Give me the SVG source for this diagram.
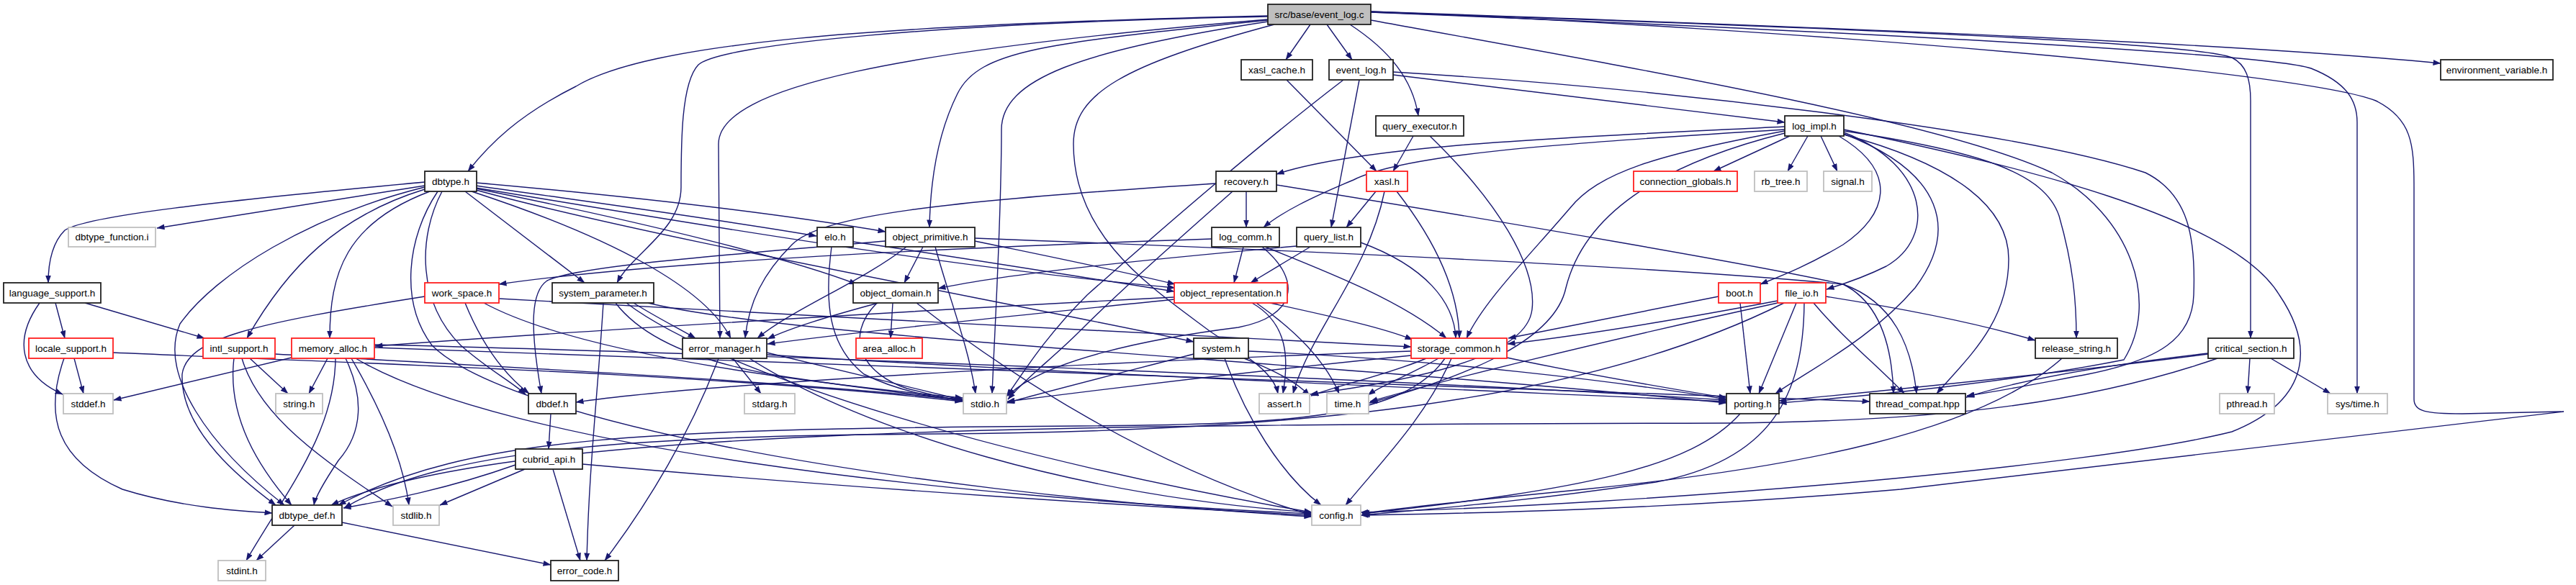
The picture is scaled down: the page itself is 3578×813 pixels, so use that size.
<svg xmlns="http://www.w3.org/2000/svg" width="3578" height="813" viewBox="0 0 3578 813">
<style>
text{font-family:"Liberation Sans",Arial,sans-serif;font-size:13.5px;text-anchor:middle;fill:#000}
.k{fill:#fff;stroke:#222;stroke-width:1.8}
.g{fill:#fff;stroke:#bfbfbf;stroke-width:1.8}
.r{fill:#fff;stroke:#ff2020;stroke-width:1.8}
#edges path{fill:none;stroke:#191970;stroke-width:1.4;marker-end:url(#a)}
</style>
<defs>
<marker id="a" markerWidth="11" markerHeight="8" refX="10.5" refY="4" orient="auto" markerUnits="userSpaceOnUse"><path d="M0,0 L11,4 L0,8 z" fill="#191970" stroke="none"/></marker>
</defs>
<rect width="3578" height="813" fill="#fff"/>
<g id="edges">
<path d="M1761,22 C1200,35 900,60 800,120 C720,160 680,200 650,238"/>
<path d="M1820,34 L1786,83"/>
<path d="M1843,34 L1878,83"/>
<path d="M1875,34 C1930,70 1962,110 1970,161"/>
<path d="M1761,28 C1450,60 1360,70 1330,130 C1300,190 1292,260 1291,316"/>
<path d="M1761,23 C1300,32 1000,62 970,90 C946,115 946,200 946,260 C946,320 880,350 857,393"/>
<path d="M1761,27 C1250,70 998,120 998,200 C998,300 1000,400 1000,470"/>
<path d="M1761,30 C1500,70 1391,110 1391,180 C1391,300 1382,450 1378,547"/>
<path d="M1770,34 C1560,90 1491,130 1491,200 C1491,330 1600,400 1680,460 C1740,500 1770,520 1775,547"/>
<path d="M1904,28 C2300,100 2700,170 2850,240 C2960,300 3000,420 2950,500 C2800,530 2600,550 2471,560"/>
<path d="M1904,16 C2500,40 3200,100 3300,140 C3350,165 3353,200 3353,260 L3353,555 C3353,572 3370,575 3420,575 L3561,572 L2640,680 C2300,710 2000,714 1890,716"/>
<path d="M1904,16 C2600,40 3100,60 3390,88"/>
<path d="M1904,17 C2600,40 3050,60 3100,80 C3120,90 3126,110 3126,140 L3126,470"/>
<path d="M1904,17 C2600,45 3150,75 3210,95 C3260,115 3274,140 3274,170 L3274,547"/>
<path d="M1888,111 L1849,316"/>
<path d="M1866,111 C1750,200 1600,330 1510,410 C1450,470 1420,520 1398,551"/>
<path d="M1935,104 L2479,170"/>
<path d="M1935,100 C2300,122 2800,180 2980,240 C3040,270 3050,330 3047,410 C3045,470 3000,500 2900,520 C2820,535 2770,545 2732,550"/>
<path d="M1787,111 L1912,238"/>
<path d="M1963,189 L1935,238"/>
<path d="M1986,189 C2080,280 2135,370 2128,430 C2120,500 1950,530 1820,548"/>
<path d="M2479,176 C2200,190 1900,200 1773,242"/>
<path d="M2479,180 C2150,200 1950,215 1880,250 C1820,275 1780,295 1755,316"/>
<path d="M2479,182 C2300,215 2220,240 2180,290 C2120,360 2060,420 2037,470"/>
<path d="M2479,185 C2300,230 2200,300 2175,400 C2160,470 2050,520 1902,560"/>
<path d="M2486,189 L2380,238"/>
<path d="M2511,189 L2483,238"/>
<path d="M2529,189 L2552,238"/>
<path d="M2554,189 C2640,240 2620,300 2560,340 C2510,370 2470,385 2445,395"/>
<path d="M2561,184 C2680,230 2690,330 2620,370 C2590,385 2560,395 2537,402"/>
<path d="M2561,186 C2700,240 2720,320 2660,400 C2600,470 2520,510 2466,547"/>
<path d="M2561,187 C2720,230 2790,290 2790,360 C2790,450 2730,500 2690,547"/>
<path d="M2561,182 C2750,210 2840,240 2860,300 C2880,370 2884,420 2884,470"/>
<path d="M2561,180 C2800,230 3100,300 3166,410 C3220,490 3200,560 3100,600 C2900,650 2300,700 1890,712"/>
<path d="M1731,266 L1731,316"/>
<path d="M1689,255 C1300,280 1140,300 1100,340 C1060,380 1040,420 1035,470"/>
<path d="M1712,266 C1640,330 1560,400 1500,460 C1460,500 1425,525 1400,555"/>
<path d="M1773,257 C2100,310 2450,370 2560,395 C2630,420 2655,480 2662,547"/>
<path d="M1911,266 L1870,316"/>
<path d="M1940,266 C1990,330 2026,400 2027,470"/>
<path d="M1923,266 C1900,380 1820,460 1796,547"/>
<path d="M1820,343 L1737,393"/>
<path d="M1890,337 C1980,370 2020,420 2022,470"/>
<path d="M1801,342 C1600,360 1400,380 1303,401"/>
<path d="M1727,343 L1714,393"/>
<path d="M1757,343 C1850,380 1950,420 2009,470"/>
<path d="M1683,332 C1300,345 900,365 693,395"/>
<path d="M1753,343 C1810,390 1800,440 1720,455 C1600,470 1450,500 1400,550"/>
<path d="M1764,421 C1850,440 1920,455 1962,472"/>
<path d="M1739,421 C1790,450 1790,500 1782,547"/>
<path d="M1745,421 C1800,460 1840,500 1860,547"/>
<path d="M1631,413 C1300,430 800,460 521,481"/>
<path d="M1631,416 C1400,440 1200,460 1066,478"/>
<path d="M1282,343 L1256,393"/>
<path d="M1259,343 C1200,390 1100,430 1052,470"/>
<path d="M1299,343 C1320,420 1345,480 1355,547"/>
<path d="M1354,335 C1450,355 1550,375 1632,395"/>
<path d="M1354,331 C1800,348 2300,370 2560,395 C2610,420 2628,480 2630,547"/>
<path d="M1230,335 C1000,355 800,370 760,390 C738,405 735,450 752,547"/>
<path d="M1185,336 C1350,360 1500,385 1631,405"/>
<path d="M1155,343 C1145,420 1150,480 1200,520 C1250,545 1300,552 1337,557"/>
<path d="M1240,421 L1237,470"/>
<path d="M1220,421 C1150,440 1100,455 1066,471"/>
<path d="M1218,421 C1170,470 1200,520 1260,540 C1300,550 1320,555 1338,557"/>
<path d="M1273,421 C1400,520 1600,650 1822,716"/>
<path d="M880,421 C910,440 940,455 966,470"/>
<path d="M838,421 C830,550 818,650 815,779"/>
<path d="M855,421 C900,480 1000,510 1100,525 C1200,540 1300,552 1337,555"/>
<path d="M870,421 C1000,520 1400,640 1822,712"/>
<path d="M900,421 C1100,470 1800,500 2398,560"/>
<path d="M590,412 C350,450 260,470 253,520 C250,600 340,670 383,702"/>
<path d="M646,421 C670,480 700,520 735,547"/>
<path d="M672,421 C800,490 1100,530 1337,553"/>
<path d="M693,415 C1100,440 1600,460 1960,482"/>
<path d="M77,421 L90,470"/>
<path d="M118,421 L284,470"/>
<path d="M55,421 C20,470 25,520 87,548"/>
<path d="M103,498 L116,547"/>
<path d="M89,498 C60,580 80,640 170,680 C250,705 330,710 378,713"/>
<path d="M157,490 C500,505 1000,520 1337,558"/>
<path d="M347,498 L400,547"/>
<path d="M325,498 C315,580 360,650 405,702"/>
<path d="M336,498 C360,580 450,640 545,704"/>
<path d="M382,492 C700,510 1100,530 1337,556"/>
<path d="M455,498 L429,547"/>
<path d="M405,497 L158,556"/>
<path d="M480,498 C505,550 505,600 470,640 C450,670 438,690 436,702"/>
<path d="M466,498 C465,600 400,680 342,779"/>
<path d="M488,498 C530,570 560,640 568,702"/>
<path d="M494,498 C700,620 1300,690 1822,714"/>
<path d="M520,479 C1000,490 2000,530 2398,556"/>
<path d="M520,483 C1200,510 2200,540 2597,558"/>
<path d="M590,258 L218,317"/>
<path d="M590,253 C300,280 120,300 90,320 C70,340 67,370 67,393"/>
<path d="M590,263 C470,300 400,370 343,470"/>
<path d="M590,260 C430,300 300,380 250,450 C220,520 290,620 395,702"/>
<path d="M597,266 C480,310 458,380 458,470"/>
<path d="M614,266 C580,330 580,420 640,480 C680,515 710,530 730,548"/>
<path d="M608,266 C565,330 555,420 600,480 C700,580 1200,680 1822,718"/>
<path d="M646,266 L812,393"/>
<path d="M661,254 C900,275 1100,300 1230,322"/>
<path d="M661,258 C850,285 1000,305 1134,328"/>
<path d="M661,262 C900,310 1100,360 1190,395"/>
<path d="M661,264 C900,330 1400,420 1658,475"/>
<path d="M661,261 C900,300 1300,370 1632,400"/>
<path d="M655,266 C850,330 980,400 1015,470"/>
<path d="M1018,498 L1057,547"/>
<path d="M998,498 C960,600 900,700 840,779"/>
<path d="M1065,490 C1150,510 1250,535 1337,556"/>
<path d="M1041,498 C1200,600 1500,690 1822,712"/>
<path d="M1065,493 C1500,520 2000,540 2398,558"/>
<path d="M1658,492 C1550,520 1450,545 1398,560"/>
<path d="M1701,498 C1730,580 1780,660 1835,702"/>
<path d="M1728,498 C1770,515 1800,530 1819,550"/>
<path d="M1734,488 C2000,500 2250,530 2398,555"/>
<path d="M1981,498 C1930,520 1860,535 1821,550"/>
<path d="M1998,498 C1960,520 1920,535 1900,549"/>
<path d="M2016,498 C1980,580 1920,640 1869,702"/>
<path d="M2007,498 C1950,580 1800,590 1500,592 C900,596 650,605 470,702"/>
<path d="M2093,497 C2200,520 2320,540 2398,553"/>
<path d="M1960,488 C1600,500 1000,530 800,559"/>
<path d="M1960,494 C1700,520 1500,545 1399,558"/>
<path d="M2387,412 C2250,440 2150,460 2095,470"/>
<path d="M2417,421 L2431,547"/>
<path d="M2469,418 C2300,450 2180,468 2094,478"/>
<path d="M2495,421 L2443,547"/>
<path d="M2506,421 C2505,550 2460,640 2300,670 C2100,700 1950,710 1892,716"/>
<path d="M2519,421 C2560,470 2610,510 2645,547"/>
<path d="M2536,412 C2650,430 2750,450 2827,473"/>
<path d="M2478,421 C2200,560 1800,600 1300,603 C900,606 620,620 478,706"/>
<path d="M2469,421 C2200,480 2000,530 1903,558"/>
<path d="M2864,498 C2750,600 2500,650 2200,680 C2050,695 1950,705 1892,714"/>
<path d="M3125,498 L3122,547"/>
<path d="M3154,498 L3237,547"/>
<path d="M3067,491 C2900,510 2800,530 2731,552"/>
<path d="M3067,492 C2850,520 2650,540 2471,557"/>
<path d="M3080,498 C2900,560 2700,585 2400,588 C1500,590 700,592 460,702"/>
<path d="M2417,575 C2350,650 2200,680 1892,714"/>
<path d="M716,646 C620,680 540,695 477,706"/>
<path d="M729,652 L611,702"/>
<path d="M768,652 L806,779"/>
<path d="M809,645 C1200,680 1600,705 1822,716"/>
<path d="M765,575 L762,624"/>
<path d="M409,730 L356,779"/>
<path d="M475,726 L765,785"/>
</g>
<g id="n_src"><rect x="1761" y="6" width="143" height="28" class="k" style="fill:#bfbfbf"/><text x="1832.5" y="25">src/base/event_log.c</text></g>
<g id="n_xasl_cache"><rect x="1724" y="83" width="99" height="28" class="k"/><text x="1773.5" y="102">xasl_cache.h</text></g>
<g id="n_event_log"><rect x="1846" y="83" width="89" height="28" class="k"/><text x="1890.5" y="102">event_log.h</text></g>
<g id="n_env_var"><rect x="3390" y="83" width="156" height="28" class="k"/><text x="3468" y="102">environment_variable.h</text></g>
<g id="n_query_executor"><rect x="1911" y="161" width="122" height="28" class="k"/><text x="1972" y="180">query_executor.h</text></g>
<g id="n_log_impl"><rect x="2479" y="161" width="82" height="28" class="k"/><text x="2520" y="180">log_impl.h</text></g>
<g id="n_dbtype"><rect x="590" y="238" width="72" height="28" class="k"/><text x="626" y="257">dbtype.h</text></g>
<g id="n_recovery"><rect x="1689" y="238" width="84" height="28" class="k"/><text x="1731" y="257">recovery.h</text></g>
<g id="n_xasl"><rect x="1898" y="238" width="57" height="28" class="r"/><text x="1926.5" y="257">xasl.h</text></g>
<g id="n_connection_globals"><rect x="2269" y="238" width="144" height="28" class="r"/><text x="2341" y="257">connection_globals.h</text></g>
<g id="n_rb_tree"><rect x="2437" y="238" width="73" height="28" class="g"/><text x="2473.5" y="257">rb_tree.h</text></g>
<g id="n_signal"><rect x="2533" y="238" width="67" height="28" class="g"/><text x="2566.5" y="257">signal.h</text></g>
<g id="n_dbtype_function"><rect x="95" y="316" width="121" height="27" class="g"/><text x="155.5" y="334">dbtype_function.i</text></g>
<g id="n_elo"><rect x="1135" y="316" width="50" height="27" class="k"/><text x="1160" y="334">elo.h</text></g>
<g id="n_object_primitive"><rect x="1230" y="316" width="124" height="27" class="k"/><text x="1292" y="334">object_primitive.h</text></g>
<g id="n_log_comm"><rect x="1683" y="316" width="94" height="27" class="k"/><text x="1730" y="334">log_comm.h</text></g>
<g id="n_query_list"><rect x="1801" y="316" width="89" height="27" class="k"/><text x="1845.5" y="334">query_list.h</text></g>
<g id="n_language_support"><rect x="5" y="393" width="135" height="28" class="k"/><text x="72.5" y="412">language_support.h</text></g>
<g id="n_work_space"><rect x="590" y="393" width="103" height="28" class="r"/><text x="641.5" y="412">work_space.h</text></g>
<g id="n_system_parameter"><rect x="767" y="393" width="141" height="28" class="k"/><text x="837.5" y="412">system_parameter.h</text></g>
<g id="n_object_domain"><rect x="1185" y="393" width="118" height="28" class="k"/><text x="1244" y="412">object_domain.h</text></g>
<g id="n_object_representation"><rect x="1631" y="393" width="157" height="28" class="r"/><text x="1709.5" y="412">object_representation.h</text></g>
<g id="n_boot"><rect x="2387" y="393" width="58" height="28" class="r"/><text x="2416" y="412">boot.h</text></g>
<g id="n_file_io"><rect x="2469" y="393" width="67" height="28" class="r"/><text x="2502.5" y="412">file_io.h</text></g>
<g id="n_locale_support"><rect x="40" y="470" width="117" height="28" class="r"/><text x="98.5" y="489">locale_support.h</text></g>
<g id="n_intl_support"><rect x="282" y="470" width="100" height="28" class="r"/><text x="332" y="489">intl_support.h</text></g>
<g id="n_memory_alloc"><rect x="405" y="470" width="115" height="28" class="r"/><text x="462.5" y="489">memory_alloc.h</text></g>
<g id="n_error_manager"><rect x="948" y="470" width="117" height="28" class="k"/><text x="1006.5" y="489">error_manager.h</text></g>
<g id="n_area_alloc"><rect x="1189" y="470" width="92" height="28" class="r"/><text x="1235" y="489">area_alloc.h</text></g>
<g id="n_system"><rect x="1658" y="470" width="76" height="28" class="k"/><text x="1696" y="489">system.h</text></g>
<g id="n_storage_common"><rect x="1960" y="470" width="133" height="28" class="r"/><text x="2026.5" y="489">storage_common.h</text></g>
<g id="n_release_string"><rect x="2827" y="470" width="114" height="28" class="k"/><text x="2884" y="489">release_string.h</text></g>
<g id="n_critical_section"><rect x="3067" y="470" width="119" height="28" class="k"/><text x="3126.5" y="489">critical_section.h</text></g>
<g id="n_stddef"><rect x="88" y="547" width="69" height="28" class="g"/><text x="122.5" y="566">stddef.h</text></g>
<g id="n_string"><rect x="383" y="547" width="65" height="28" class="g"/><text x="415.5" y="566">string.h</text></g>
<g id="n_dbdef"><rect x="734" y="547" width="66" height="28" class="k"/><text x="767" y="566">dbdef.h</text></g>
<g id="n_stdarg"><rect x="1034" y="547" width="70" height="28" class="g"/><text x="1069" y="566">stdarg.h</text></g>
<g id="n_stdio"><rect x="1338" y="547" width="60" height="28" class="g"/><text x="1368" y="566">stdio.h</text></g>
<g id="n_assert"><rect x="1749" y="547" width="70" height="28" class="g"/><text x="1784" y="566">assert.h</text></g>
<g id="n_time"><rect x="1843" y="547" width="58" height="28" class="g"/><text x="1872" y="566">time.h</text></g>
<g id="n_porting"><rect x="2398" y="547" width="73" height="28" class="k"/><text x="2434.5" y="566">porting.h</text></g>
<g id="n_thread_compat"><rect x="2597" y="547" width="133" height="28" class="k"/><text x="2663.5" y="566">thread_compat.hpp</text></g>
<g id="n_pthread"><rect x="3083" y="547" width="76" height="28" class="g"/><text x="3121" y="566">pthread.h</text></g>
<g id="n_sys_time"><rect x="3233" y="547" width="83" height="28" class="g"/><text x="3274.5" y="566">sys/time.h</text></g>
<g id="n_cubrid_api"><rect x="716" y="624" width="93" height="28" class="k"/><text x="762.5" y="643">cubrid_api.h</text></g>
<g id="n_dbtype_def"><rect x="378" y="702" width="97" height="28" class="k"/><text x="426.5" y="721">dbtype_def.h</text></g>
<g id="n_stdlib"><rect x="546" y="702" width="64" height="28" class="g"/><text x="578" y="721">stdlib.h</text></g>
<g id="n_config"><rect x="1822" y="702" width="68" height="28" class="g"/><text x="1856" y="721">config.h</text></g>
<g id="n_stdint"><rect x="303" y="779" width="66" height="28" class="g"/><text x="336" y="798">stdint.h</text></g>
<g id="n_error_code"><rect x="765" y="779" width="94" height="28" class="k"/><text x="812" y="798">error_code.h</text></g>
</svg>
